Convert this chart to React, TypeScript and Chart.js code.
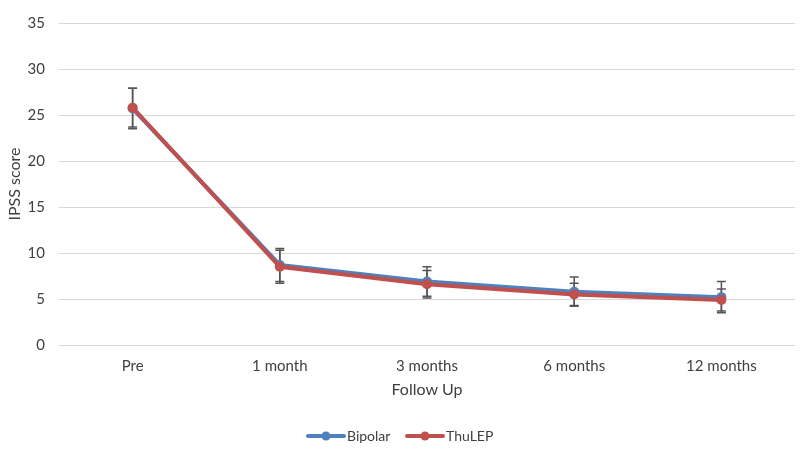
import React, { useEffect, useRef } from "react";
import { Chart, registerables } from "chart.js";

Chart.register(...registerables);

const categories = ["Pre", "1 month", "3 months", "6 months", "12 months"];
const bipolarMean = [25.7, 8.7, 6.9, 5.8, 5.2];
const bipolarSd = [2.2, 1.8, 1.6, 1.6, 1.7];
const thulepMean = [25.8, 8.5, 6.6, 5.5, 4.9];
const thulepSd = [2.1, 1.8, 1.5, 1.2, 1.2];
const yTicks = [0, 5, 10, 15, 20, 25, 30, 35];

const BLUE = "#4f81bd";
const RED = "#c0504d";
const FONT = "Lato, 'Open Sans', sans-serif";

// Vertical error bars with caps, drawn beneath the lines and markers
const errorBars = {
  id: "errorBars",
  beforeDatasetsDraw(chart: any) {
    const { ctx } = chart;
    const y = chart.scales.y;
    ctx.save();
    ctx.strokeStyle = "#555555";
    ctx.lineWidth = 1.5;
    chart.data.datasets.forEach((ds: any, di: number) => {
      const meta = chart.getDatasetMeta(di);
      ds.data.forEach((v: number, i: number) => {
        const sd = ds.sd[i];
        const px = meta.data[i].x;
        const top = y.getPixelForValue(v + sd);
        const bot = y.getPixelForValue(v - sd);
        ctx.beginPath();
        ctx.moveTo(px, top);
        ctx.lineTo(px, bot);
        ctx.moveTo(px - 4.5, top);
        ctx.lineTo(px + 4.5, top);
        ctx.moveTo(px - 4.5, bot);
        ctx.lineTo(px + 4.5, bot);
        ctx.stroke();
      });
    });
    ctx.restore();
  },
};

// Legend row: line with a round marker, then the series name
const lineLegend = {
  id: "lineLegend",
  afterDraw(chart: any) {
    const { ctx } = chart;
    const items = [
      { label: "Bipolar", color: BLUE, x: 308 },
      { label: "ThuLEP", color: RED, x: 407 },
    ];
    const cy = 436;
    ctx.save();
    ctx.font = `14px ${FONT}`;
    ctx.textBaseline = "middle";
    ctx.textAlign = "left";
    items.forEach((it) => {
      ctx.strokeStyle = it.color;
      ctx.lineWidth = 4;
      ctx.lineCap = "round";
      ctx.beginPath();
      ctx.moveTo(it.x, cy);
      ctx.lineTo(it.x + 36, cy);
      ctx.stroke();
      ctx.fillStyle = it.color;
      ctx.beginPath();
      ctx.arc(it.x + 18, cy, 4.5, 0, Math.PI * 2);
      ctx.fill();
      ctx.fillStyle = "#404040";
      ctx.fillText(it.label, it.x + 39, cy + 0.5);
    });
    ctx.restore();
  },
};

export default function App() {
  const canvasRef = useRef<HTMLCanvasElement>(null);

  useEffect(() => {
    document.body.style.margin = "0";
    const chart = new Chart(canvasRef.current!, {
      type: "line",
      data: {
        labels: categories,
        datasets: [
          {
            label: "Bipolar",
            data: bipolarMean,
            sd: bipolarSd,
            borderColor: BLUE,
            backgroundColor: BLUE,
            borderWidth: 4,
            pointRadius: 5,
            pointBorderWidth: 0,
            order: 1,
          } as any,
          {
            label: "ThuLEP",
            data: thulepMean,
            sd: thulepSd,
            borderColor: RED,
            backgroundColor: RED,
            borderWidth: 4,
            pointRadius: 5,
            pointBorderWidth: 0,
            order: 0,
          } as any,
        ],
      },
      options: {
        animation: false,
        responsive: false,
        layout: { padding: { top: 14, right: 3, left: 0, bottom: 0 } },
        plugins: {
          legend: { display: false },
          tooltip: { enabled: false },
        },
        scales: {
          x: {
            offset: true,
            grid: { display: false, drawTicks: false },
            border: { display: false },
            ticks: {
              padding: 12,
              color: "#404040",
              font: { family: FONT, size: 15 },
              maxRotation: 0,
            },
            title: {
              display: true,
              text: "Follow Up",
              color: "#404040",
              font: { family: FONT, size: 16 },
              padding: { top: 0, bottom: 52 },
            },
            afterFit(scale: any) {
              scale.height = 106;
            },
          },
          y: {
            min: 0,
            max: 35,
            afterBuildTicks(scale: any) {
              scale.ticks = yTicks.map((v) => ({ value: v }));
            },
            grid: { color: "#d9d9d9", lineWidth: 1, drawTicks: false },
            border: { display: false },
            ticks: {
              padding: 14,
              color: "#404040",
              font: { family: FONT, size: 15 },
            },
            title: {
              display: true,
              text: "IPSS score",
              color: "#404040",
              font: { family: FONT, size: 16 },
              padding: { top: 5, bottom: 0 },
            },
            afterFit(scale: any) {
              scale.width = 59;
            },
          },
        },
      },
      plugins: [errorBars, lineLegend],
    });
    return () => chart.destroy();
  }, []);

  return (
    <div style={{ width: 800, height: 451, background: "#fff" }}>
      <canvas ref={canvasRef} width={800} height={451} />
    </div>
  );
}
